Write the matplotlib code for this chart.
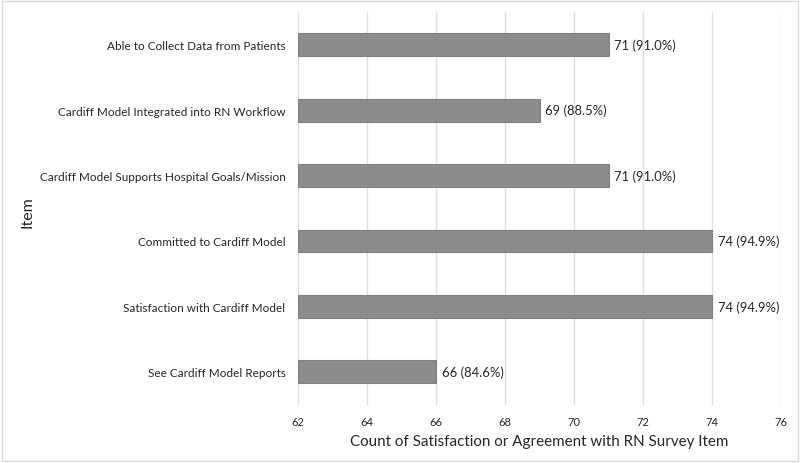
import numpy as np
import matplotlib.pyplot as plt
from matplotlib.patches import Rectangle

# Données
items = ['Able to Collect Data from Patients',
         'Cardiff Model Integrated into RN Workflow',
         'Cardiff Model Supports Hospital Goals/Mission',
         'Committed to Cardiff Model',
         'Satisfaction with Cardiff Model',
         'See Cardiff Model Reports']
counts = [71, 69, 71, 74, 74, 66]
percents = [91.0, 88.5, 91.0, 94.9, 94.9, 84.6]
xticks = [62, 64, 66, 68, 70, 72, 74, 76]

plt.rcParams['font.family'] = ['Lato', 'DejaVu Sans']
txt = '#262626'

fig = plt.figure(figsize=(8, 4.64), dpi=100)
ax = fig.add_axes([0.3725, 0.126, 0.604, 0.846])

y = np.arange(len(items))
ax.barh(y, [c - 62 for c in counts], left=62, height=0.35,
        color='#8c8c8c', edgecolor='#808080', linewidth=0.8, zorder=3)

for yi, c, p in zip(y, counts, percents):
    ax.text(c + 0.17, yi, f'{c} ({p:.1f}%)', va='center', ha='left',
            fontsize=9.4, color=txt)

ax.set_xlim(62, 76)
ax.set_ylim(len(items) - 0.5, -0.5)
ax.set_xticks(xticks)
ax.set_xticklabels([str(t) for t in xticks], fontsize=8, color=txt)
ax.set_yticks(y)
ax.set_yticklabels(items, fontsize=8.5, color=txt)
ax.tick_params(length=0, pad=9)
ax.tick_params(axis='x', pad=8)

ax.grid(axis='x', color='#dedede', linewidth=1, zorder=0)
for s in ax.spines.values():
    s.set_visible(False)

ax.set_xlabel('Count of Satisfaction or Agreement with RN Survey Item',
              fontsize=10.9, color=txt, labelpad=5)
fig.text(0.034, 0.543, 'Item', rotation=90, fontsize=11.5, color=txt,
         va='center', ha='center')

# Cadre autour de la figure
fig.patches.append(Rectangle((0.003, 0.004), 0.994, 0.992, transform=fig.transFigure,
                             fill=False, edgecolor='#d9d9d9', linewidth=1))

fig.savefig('out.png', dpi=100)
